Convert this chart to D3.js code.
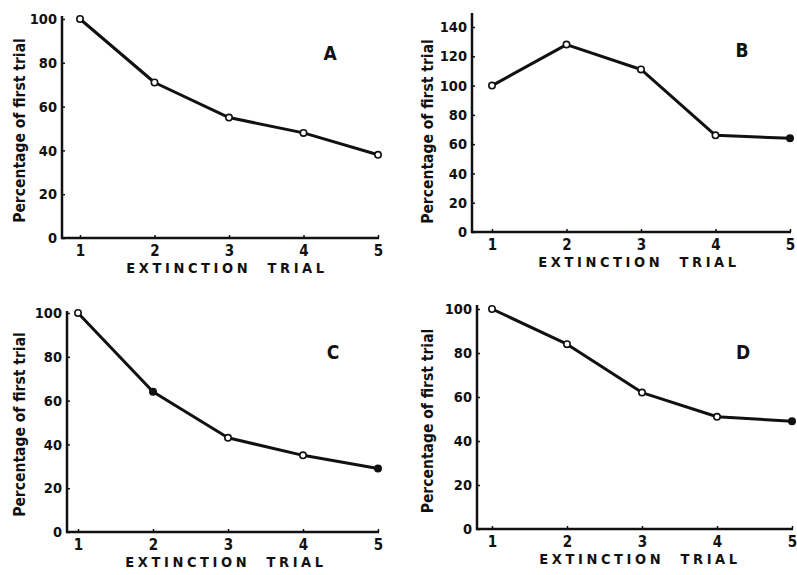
<!DOCTYPE html>
<html><head><meta charset="utf-8">
<script src="https://cdn.jsdelivr.net/npm/d3@7"></script>
<style>
html,body{margin:0;padding:0;background:#fff;}
svg text{font-family:"DejaVu Sans Condensed","DejaVu Sans",sans-serif;font-weight:bold;fill:#111;}
</style></head>
<body>
<svg id="chart" width="797" height="575"></svg>
<script>
// ---- data ----
const trials = [1, 2, 3, 4, 5];
const valuesA = [100, 71, 55, 48, 38];
const valuesB = [100, 128, 111, 66, 64];
const valuesC = [100, 64, 43, 35, 29];
const valuesD = [100, 84, 62, 51, 49];
const filledA = [false, false, false, false, false];
const filledB = [false, false, false, false, true];
const filledC = [false, true, false, false, true];
const filledD = [false, false, false, false, true];
const yTicks100 = [0, 20, 40, 60, 80, 100];
const yTicks140 = [0, 20, 40, 60, 80, 100, 120, 140];
const panelLabels = ["A", "B", "C", "D"];
const xTitle = "EXTINCTION  TRIAL";
const yTitle = "Percentage of first trial";

// ---- layout ----
const panels = [
  {label: panelLabels[0], values: valuesA, filled: filledA, ticks: yTicks100, yMax: 100, axisX: 62, x1: 80, x5: 378, y0: 238, yTop: 19, axisTop: 16, lab: [330, 53], ylabX: 25},
  {label: panelLabels[1], values: valuesB, filled: filledB, ticks: yTicks140, yMax: 140, axisX: 472, x1: 492, x5: 790, y0: 232, yTop: 27, axisTop: 13, lab: [742, 50], ylabX: 433},
  {label: panelLabels[2], values: valuesC, filled: filledC, ticks: yTicks100, yMax: 100, axisX: 67, x1: 78, x5: 378, y0: 532, yTop: 313, axisTop: 311, lab: [333, 352], ylabX: 25},
  {label: panelLabels[3], values: valuesD, filled: filledD, ticks: yTicks100, yMax: 100, axisX: 477, x1: 492, x5: 792, y0: 529, yTop: 309, axisTop: 305, lab: [743, 352], ylabX: 433}
];

const svg = d3.select("#chart");

panels.forEach(p => {
  const x = d3.scaleLinear().domain([1, 5]).range([p.x1, p.x5]);
  const y = d3.scaleLinear().domain([0, p.yMax]).range([p.y0, p.yTop]);
  const g = svg.append("g");

  // y axis
  const ya = g.append("g").attr("transform", `translate(${p.axisX},0)`)
    .call(d3.axisLeft(y).tickValues(p.ticks).tickSizeInner(-3).tickSizeOuter(0).tickPadding(5));
  ya.select(".domain").remove();
  ya.selectAll(".tick line").attr("stroke", "#111").attr("stroke-width", 1.5);
  ya.selectAll(".tick text").style("font-size", "14.5px");
  g.append("line").attr("x1", p.axisX).attr("x2", p.axisX)
    .attr("y1", p.axisTop).attr("y2", p.y0 + 1)
    .attr("stroke", "#111").attr("stroke-width", 2.5);

  // x axis
  const xa = g.append("g").attr("transform", `translate(0,${p.y0})`)
    .call(d3.axisBottom(x).tickValues(trials).tickFormat(d3.format("d")).tickSizeInner(-3).tickSizeOuter(0).tickPadding(7));
  xa.select(".domain").remove();
  xa.selectAll(".tick line").attr("stroke", "#111").attr("stroke-width", 1.5);
  xa.selectAll(".tick text").style("font-size", "15px");
  g.append("line").attr("x1", p.axisX - 1).attr("x2", p.x5 + 1)
    .attr("y1", p.y0).attr("y2", p.y0)
    .attr("stroke", "#111").attr("stroke-width", 2.5);

  // titles
  g.append("text").attr("x", (p.x1 + p.x5) / 2 - 2).attr("y", p.y0 + 35)
    .attr("text-anchor", "middle").style("font-size", "14.5px").style("letter-spacing", "3.6px")
    .style("white-space", "pre").attr("xml:space", "preserve").text(xTitle);
  g.append("text").attr("transform", `translate(${p.ylabX},${(p.y0 + p.yTop) / 2 + 2}) rotate(-90)`)
    .attr("text-anchor", "middle").style("font-size", "15.5px").text(yTitle);
  g.append("text").attr("x", p.lab[0]).attr("y", p.lab[1] + 7)
    .attr("text-anchor", "middle").style("font-size", "19px").text(p.label);

  // line
  const pts = trials.map((t, i) => ({t, v: p.values[i], f: p.filled[i]}));
  g.append("path").datum(pts)
    .attr("d", d3.line().x(d => x(d.t)).y(d => y(d.v)))
    .attr("fill", "none").attr("stroke", "#111").attr("stroke-width", 3).attr("stroke-linejoin", "round");
  g.selectAll("circle").data(pts).join("circle")
    .attr("cx", d => x(d.t)).attr("cy", d => y(d.v)).attr("r", 3.2)
    .attr("fill", d => d.f ? "#111" : "#fff").attr("stroke", "#111").attr("stroke-width", 1.6);
});
</script>
</body></html>
